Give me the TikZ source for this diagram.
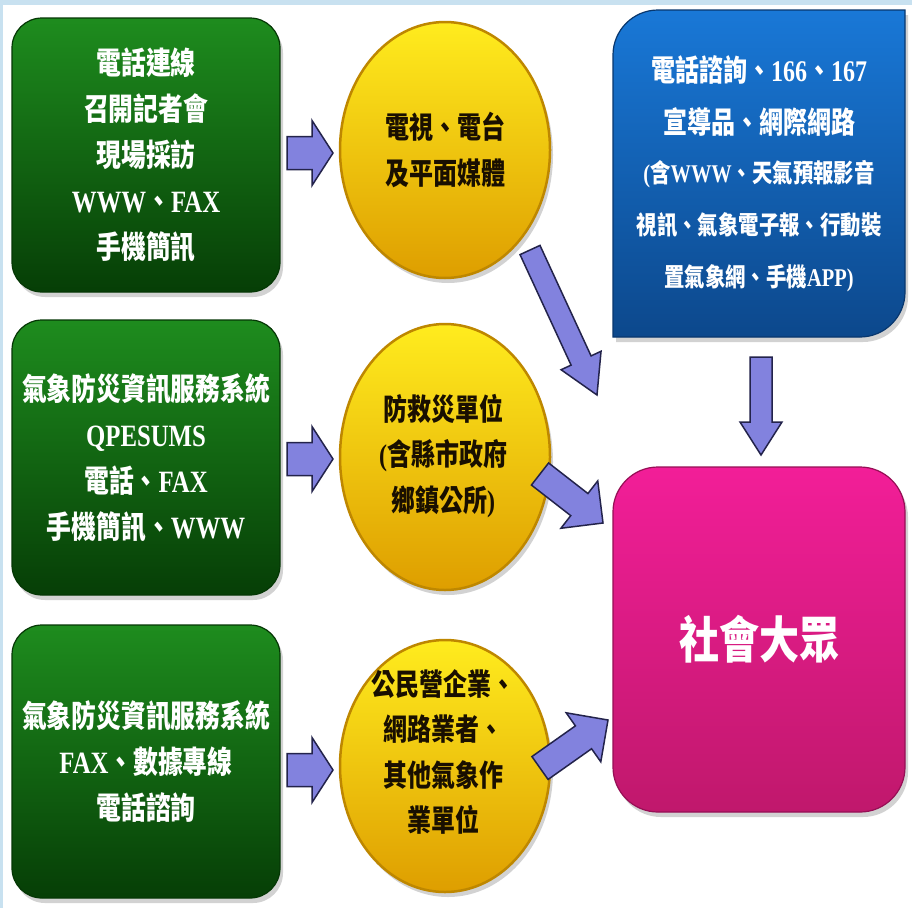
\documentclass[tikz,border=0pt]{standalone}
\usepackage{fontspec}
\setmainfont{Liberation Serif}[FakeStretch=0.8]
\newfontfamily\cjk{Noto Sans CJK TC}[FakeStretch=0.8]
\usetikzlibrary{shapes.geometric,shadows,calc}
\definecolor{bgblue}{RGB}{200,225,240}
\definecolor{gtop}{RGB}{30,140,30}
\definecolor{gmid}{RGB}{12,105,15}
\definecolor{gbot}{RGB}{6,62,6}
\definecolor{gline}{RGB}{5,55,5}
\definecolor{ytop}{RGB}{255,236,30}
\definecolor{ymid}{RGB}{250,205,10}
\definecolor{ybot}{RGB}{222,158,0}
\definecolor{yline}{RGB}{190,135,0}
\definecolor{btop}{RGB}{25,120,215}
\definecolor{bbot}{RGB}{12,72,140}
\definecolor{bline}{RGB}{8,55,110}
\definecolor{ptop}{RGB}{242,30,152}
\definecolor{pbot}{RGB}{192,24,108}
\definecolor{pline}{RGB}{150,15,85}
\definecolor{afill}{RGB}{130,130,222}
\definecolor{aline}{RGB}{35,35,75}
\definecolor{ytext}{RGB}{25,15,0}
\newcommand\blockarrow[5]{%
  \coordinate (ba-h) at ($(#2)!#5!(#1)$);
  \draw[barrow] ($(#1)!#3!90:(#2)$) -- ($(ba-h)!#3!-90:(#1)$) -- ($(ba-h)!#4!-90:(#1)$) -- (#2)
     -- ($(ba-h)!#4!90:(#1)$) -- ($(ba-h)!#3!90:(#1)$) -- ($(#1)!#3!-90:(#2)$) -- cycle;
}
\tikzset{
  dshadow/.style={drop shadow={opacity=0.35,shadow xshift=3pt,shadow yshift=-5pt}},
  gbox/.style={rectangle, rounded corners=30pt, minimum width=268pt, top color=gtop, middle color=gmid,
     bottom color=gbot, draw=gline, line width=1.2pt, text=white, align=center, dshadow,
     font=\bfseries\fontsize{31}{46}\selectfont},
  yell/.style={ellipse, minimum width=210pt, inner sep=0pt, top color=ytop, middle color=ymid,
     bottom color=ybot, draw=yline, line width=2.5pt, dshadow},
  ytxt/.style={text=ytext, align=center, font=\bfseries\fontsize{30}{45.5}\selectfont},
  pbox/.style={rectangle, rounded corners=45pt, minimum width=292pt, minimum height=345pt,
     top color=ptop, bottom color=pbot, draw=pline, line width=1.2pt, text=white, dshadow,
     font=\bfseries\fontsize{50}{54}\selectfont},
  btxt/.style={text=white, align=center},
  barrow/.style={fill=afill, draw=aline, line width=1.5pt, line join=miter}
}
\begin{document}
\begin{tikzpicture}[x=1pt,y=-1pt]
\useasboundingbox (0,0) rectangle (912,908);
\fill[bgblue] (0,0) rectangle (912,908);
\fill[white] (3,5) rectangle (912,908);

% green boxes
\node[gbox, minimum height=274pt] (g1) at (146,155) {{\cjk 電話連線}\\{\cjk 召開記者會}\\{\cjk 現場採訪}\\WWW{\cjk 、}FAX\\{\cjk 手機簡訊}};
\node[gbox, minimum height=275pt] (g2) at (146,457.5) {{\cjk 氣象防災資訊服務系統}\\QPESUMS\\{\cjk 電話、}FAX\\{\cjk 手機簡訊、}WWW};
\node[gbox, minimum height=273pt] (g3) at (146,761.5) {{\cjk 氣象防災資訊服務系統}\\FAX{\cjk 、數據專線}\\{\cjk 電話諮詢}};

% yellow ellipses
\node[yell, minimum height=256pt] (y1) at (445,150) {};
\node[yell, minimum height=266pt] (y2) at (445,457) {};
\node[yell, minimum height=252pt] (y3) at (445,766) {};
\node[ytxt] (y1t) at (445,150) {{\cjk 電視、電台}\\{\cjk 及平面媒體}};
\node[ytxt] (y2t) at (443,456) {{\cjk 防救災單位}\\({\cjk 含縣市政府}\\{\cjk 鄉鎮公所})};
\node[ytxt] (y3t) at (443,752) {{\cjk 公民營企業、}\\{\cjk 網路業者、}\\{\cjk 其他氣象作}\\{\cjk 業單位}};

% blue box
\path[top color=btop, bottom color=bbot, draw=bline, line width=1.2pt, dshadow]
  (613,55) .. controls (613,30.2) and (633.2,10) .. (658,10) -- (905,10) -- (905,292)
  .. controls (905,316.8) and (884.8,337) .. (860,337) -- (613,337) -- cycle;
\node[btxt, font=\bfseries\fontsize{30}{52}\selectfont] (bt1) at (759,96) {{\cjk 電話諮詢、}166{\cjk 、}167\\{\cjk 宣導品、網際網路}};
\node[btxt, font=\bfseries\fontsize{25.5}{52}\selectfont] (bt2) at (759,226) {({\cjk 含}WWW{\cjk 、天氣預報影音}\\{\cjk 視訊、氣象電子報、行動裝}\\{\cjk 置氣象網、手機}APP)};

% pink box
\node[pbox] (p) at (759,639.5) {\cjk 社會大眾};

% arrow end points
\coordinate (a1s) at (287,153);  \coordinate (a1e) at (333,153);
\coordinate (a2s) at (287,459);  \coordinate (a2e) at (333,459);
\coordinate (a3s) at (287,770);  \coordinate (a3e) at (333,770);
\coordinate (a4s) at (530,250);  \coordinate (a4e) at (597,395);
\coordinate (a5s) at (540,474);  \coordinate (a5e) at (603,523);
\coordinate (a6s) at (540,768);  \coordinate (a6e) at (608,720);
\coordinate (a7s) at (761,357);  \coordinate (a7e) at (761,455);

\blockarrow{a1s}{a1e}{16.5pt}{32.5pt}{21pt}
\blockarrow{a2s}{a2e}{16.5pt}{32.5pt}{21pt}
\blockarrow{a3s}{a3e}{16.5pt}{32.5pt}{21pt}
\blockarrow{a4s}{a4e}{11pt}{22pt}{38pt}
\blockarrow{a5s}{a5e}{14pt}{30pt}{30pt}
\blockarrow{a6s}{a6e}{14pt}{30pt}{30pt}
\blockarrow{a7s}{a7e}{11pt}{21pt}{33pt}
\end{tikzpicture}
\end{document}
